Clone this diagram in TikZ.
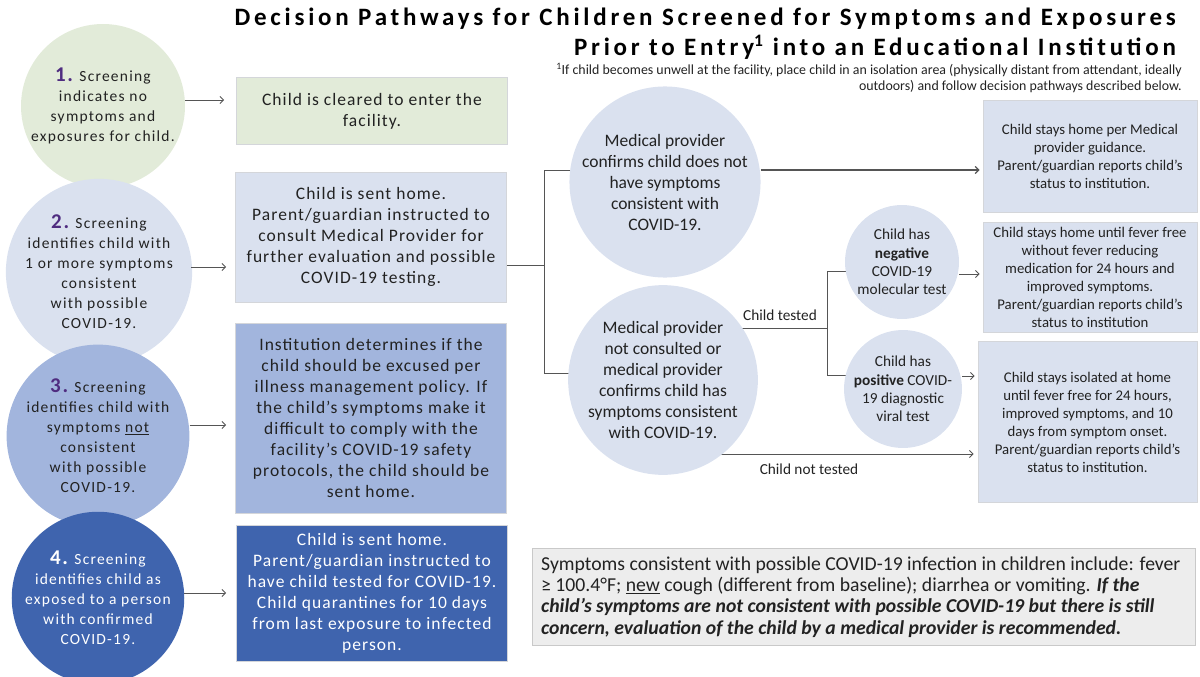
\documentclass[tikz,border=0pt]{standalone}
\usepackage{fontspec}
\setmainfont{Carlito}
\newfontfamily\spaced[LetterSpace=8]{Carlito}
\newfontfamily\bspaced[LetterSpace=6]{Carlito}
\newfontfamily\titlefont[LetterSpace=15]{Carlito}
\usetikzlibrary{arrows.meta,backgrounds}
\definecolor{txt}{HTML}{222222}
\definecolor{greenf}{HTML}{E2EBD9}
\definecolor{lblue}{HTML}{DAE1EF}
\definecolor{mblue}{HTML}{A2B5DD}
\definecolor{dblue}{HTML}{3F64AE}
\definecolor{purp}{HTML}{4F2C80}
\definecolor{bord}{HTML}{D4D6DA}
\definecolor{notef}{HTML}{EDEDED}
\definecolor{noted}{HTML}{C9C9C9}
\definecolor{lnc}{HTML}{555555}
\newcommand{\numlab}[2][purp]{{\fontsize{21}{20}\selectfont\bfseries\color{#1}#2}}
\tikzset{
  lcirc/.style={circle, inner sep=0pt, align=center, text=txt,
     font=\spaced\fontsize{15.5}{20}\selectfont},
  bx/.style={rectangle, draw=bord, line width=0.8pt, inner sep=0pt, align=center, text=txt},
  bxfont/.style={font=\bspaced\fontsize{17.5}{21}\selectfont},
  mcirc/.style={circle, inner sep=0pt, align=center, text=txt, fill=lblue,
     font=\fontsize{17.5}{21}\selectfont},
  scirc/.style={circle, inner sep=0pt, align=center, text=txt, fill=lblue,
     minimum size=114pt, font=\fontsize{15.3}{18.3}\selectfont},
  rbx/.style={bx, fill=lblue, font=\fontsize{14.8}{18}\selectfont},
  ln/.style={draw=lnc, line width=0.8pt},
  arr/.style={draw=lnc, line width=0.9pt, -{Straight Barb[length=3.5pt,width=7pt]}},
  lab/.style={text=txt, font=\fontsize{15.3}{18}\selectfont, inner sep=0pt},
}
\begin{document}
\begin{tikzpicture}[x=1pt,y=-1pt]
\useasboundingbox (0,0) rectangle (1200,677);

% title
\node[anchor=north east, align=right, inner sep=0pt, text=black,
      font=\titlefont\bfseries\fontsize{25}{30}\selectfont] (title) at (1176,8)
  {Decision Pathways for Children Screened for Symptoms and Exposures\\
   Prior to Entry\textsuperscript{1} into an Educational Institution};
\node[anchor=north east, align=right, inner sep=0pt, text=txt,
      font=\fontsize{13.9}{16}\selectfont] (foot) at (1182,63)
  {\textsuperscript{1}If child becomes unwell at the facility, place child in an isolation area (physically distant from attendant, ideally\\
   outdoors) and follow decision pathways described below.};

% left circles
\node[lcirc, fill=greenf, minimum size=164pt] (c1) at (103,106)
  {\numlab{1.} Screening\\indicates no\\symptoms and\\exposures for child.};
\node[lcirc, fill=lblue, minimum size=167pt] (c2) at (99,272)
  {\numlab{2.} Screening\\identifies child with\\1 or more symptoms\\consistent\\with possible\\COVID-19.};
\node[lcirc, fill=mblue, minimum size=167pt] (c3) at (98,436)
  {\numlab{3.} Screening\\identifies child with\\symptoms \underline{not}\\consistent\\with possible\\COVID-19.};
\node[lcirc, fill=dblue, text=white, minimum size=163pt] (c4) at (98,598)
  {\numlab[white]{4.} Screening\\identifies child as\\exposed to a person\\with confirmed\\COVID-19.};

% left boxes
\node[bx, fill=greenf, minimum width=271pt, minimum height=67pt,
      font=\bspaced\fontsize{17.5}{21}\selectfont] (b1) at (372,111)
  {Child is cleared to enter the\\facility.};
\node[bx, bxfont, fill=lblue, minimum width=271pt, minimum height=130pt] (b2) at (371,237)
  {Child is sent home.\\Parent/guardian instructed to\\consult Medical Provider for\\further evaluation and possible\\COVID-19 testing.};
\node[bx, bxfont, fill=mblue, minimum width=271pt, minimum height=190pt] (b3) at (371,418)
  {Institution determines if the\\child should be excused per\\illness management policy. If\\the child’s symptoms make it\\difficult to comply with the\\facility’s COVID-19 safety\\protocols, the child should be\\sent home.};
\node[bx, bxfont, fill=dblue, text=white, minimum width=271pt, minimum height=136pt] (b4) at (372,593)
  {Child is sent home.\\Parent/guardian instructed to\\have child tested for COVID-19.\\Child quarantines for 10 days\\from last exposure to infected\\person.};

% middle circles
\node[mcirc, minimum size=182pt] (m1) at (665,182)
  {Medical provider\\confirms child does not\\have symptoms\\consistent with\\COVID-19.};
\node[mcirc, minimum size=185pt] (m2) at (663,380)
  {Medical provider\\not consulted or\\medical provider\\confirms child has\\symptoms consistent\\with COVID-19.};
\node[scirc] (s1) at (902,262)
  {Child has\\\textbf{negative}\\COVID-19\\molecular test};
\node[scirc] (s2) at (903,389)
  {Child has\\\textbf{positive} COVID-\\19 diagnostic\\viral test};

% right boxes
\node[rbx, minimum width=214pt, minimum height=112pt] (r1) at (1090,156)
  {Child stays home per Medical\\provider guidance.\\Parent/guardian reports child’s\\status to institution.};
\node[rbx, minimum width=214pt, minimum height=110pt] (r2) at (1090,277)
  {Child stays home until fever free\\without fever reducing\\medication for 24 hours and\\improved symptoms.\\Parent/guardian reports child’s\\status to institution};
\node[rbx, minimum width=219pt, minimum height=161pt] (r3) at (1087.5,422)
  {Child stays isolated at home\\until fever free for 24 hours,\\improved symptoms, and 10\\days from symptom onset.\\Parent/guardian reports child’s\\status to institution.};

% note
\node[rectangle, fill=notef, draw=noted, line width=0.8pt, minimum width=663pt, minimum height=97pt] (note) at (863.5,596.5) {};
\node[anchor=west, align=left, inner sep=0pt, text=txt, font=\fontsize{19.7}{21.3}\selectfont] (notetxt) at (541,597)
  {Symptoms consistent with possible COVID-19 infection in children include: fever\\
   ≥ 100.4°F; \underline{new} cough (different from baseline); diarrhea or vomiting. \textbf{\textit{If the}}\\
   \textbf{\textit{child’s symptoms are not consistent with possible COVID-19 but there is still}}\\
   \textbf{\textit{concern, evaluation of the child by a medical provider is recommended.}}};

% labels
\node[lab, anchor=base] (lt) at (780,320) {Child tested};
\node[lab, anchor=base] (lnt) at (809,474) {Child not tested};

% junction coordinates
\coordinate (j1) at (544,265);
\coordinate (j1t) at (544,170);
\coordinate (j1b) at (544,373);
\coordinate (j2) at (827,328);
\coordinate (j2t) at (827,271);
\coordinate (j2b) at (827,375);
\coordinate (y1) at (0,100);
\coordinate (y2) at (0,267);
\coordinate (y3) at (0,425);
\coordinate (y4) at (0,593);
\coordinate (yr2) at (0,274);
\coordinate (yr3) at (0,376);
\coordinate (ynt) at (0,454);

% arrows left
\draw[arr, shorten >=12pt] (c1.east |- y1) -- (b1.west |- y1);
\draw[arr, shorten >=9pt, shorten <=-1pt] (c2.east |- y2) -- (b2.west |- y2);
\draw[arr, shorten >=9pt] (c3.east |- y3) -- (b3.west |- y3);
\draw[arr, shorten >=10pt] (c4.east |- y4) -- (b4.west |- y4);

\begin{pgfonlayer}{background}
\draw[ln] (b2.east |- j1) -- (j1);
\draw[ln] (m1 |- j1t) -- (j1t) -- (j1b) -- (m2 |- j1b);
\draw[ln] (m2 |- j2) -- (j2);
\draw[ln] (s1 |- j2t) -- (j2t) -- (j2b) -- (s2 |- j2b);
\draw[arr, shorten >=4pt] (m2 |- ynt) -- (r3.west |- ynt);
\end{pgfonlayer}
\draw[arr, line width=1.3pt, shorten >=3pt] (m1.east |- j1t) -- (r1.west |- j1t);
\draw[arr, shorten >=3pt] (s1.east |- yr2) -- (r2.west |- yr2);
\draw[arr, shorten >=3pt] (s2.east |- yr3) -- (r3.west |- yr3);
\end{tikzpicture}
\end{document}
